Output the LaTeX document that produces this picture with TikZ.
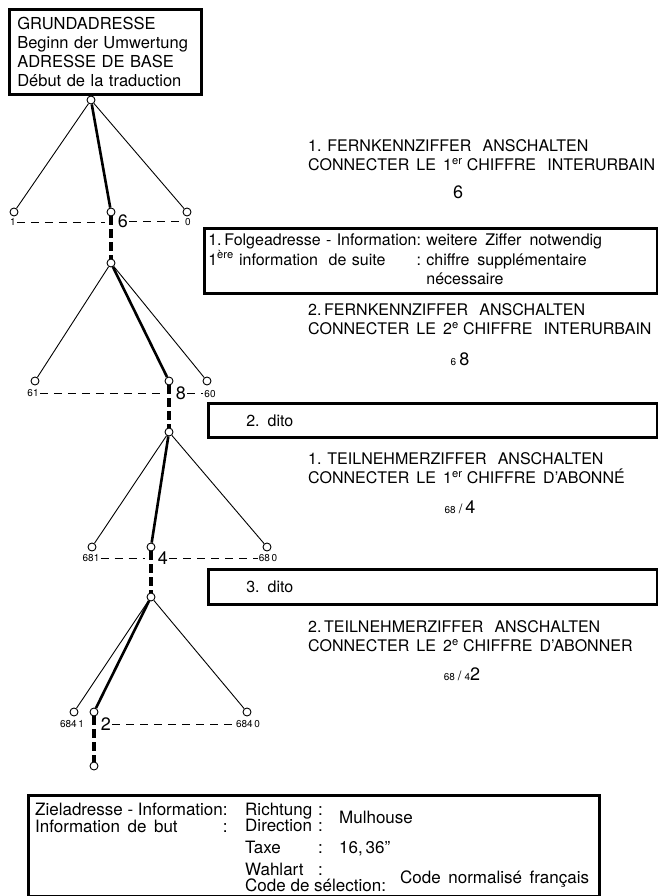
\documentclass[tikz,border=0pt]{standalone}
\usepackage{fontspec}
\setmainfont{TeX Gyre Heros}
\tikzset{%
knot/.style={circle,draw,line width=0.9pt,fill=white,minimum size=8pt,inner sep=0pt},
branch/.style={line width=0.9pt},
route/.style={line width=2.6pt},
trunk/.style={line width=3.2pt,dash pattern=on 9pt off 4pt},
level/.style={line width=0.9pt,dash pattern=on 8pt off 6pt},
infobox/.style={draw,line width=2.6pt,inner sep=0pt,anchor=north west,align=left},
stage/.style={anchor=west,align=left,inner sep=0pt},
sub/.style={font=\fontsize{10}{12}\selectfont,inner sep=1pt},
digit/.style={font=\fontsize{18}{20}\selectfont,inner sep=1pt},
cell/.style={anchor=base west,inner sep=0pt,font=\fontsize{17}{14}\selectfont}
}
\newcommand{\sm}[1]{{\fontsize{10}{12}\selectfont #1}}
\newcommand{\wide}{\hspace{0.7em}}
\newcommand{\lbl}[1]{\makebox[73pt][l]{#1}}

\begin{document}
\begin{tikzpicture}[x=1pt,y=-1pt,
                    every node/.append style={font=\fontsize{16}{19}\selectfont}]
\useasboundingbox (0,0) rectangle (657,896);
%% base address
\node[infobox,minimum width=192pt,minimum height=85pt,text width=176pt,inner xsep=8pt,
      font=\fontsize{16.5}{19}\selectfont] (grund) at (8,8)
     {GRUNDADRESSE\\Beginn der Umwertung\\ADRESSE DE BASE\\Début de la traduction};
%%
\node[knot] (r0) at (91,100)  {};
\node[knot] (a1) at (14,212)  {};
\node[knot] (n1) at (111,212) {};
\node[knot] (b1) at (187,212) {};
\node[knot] (m1) at (111,263) {};
%
\node[knot] (a2) at (35,381)  {};
\node[knot] (n2) at (169,381) {};
\node[knot] (b2) at (207,381) {};
\node[knot] (m2) at (169,432) {};
%
\node[knot] (a3) at (92,547)  {};
\node[knot] (n3) at (151,547) {};
\node[knot] (b3) at (267,547) {};
\node[knot] (m3) at (151,597) {};
%
\node[knot] (a4) at (74,712)  {};
\node[knot] (n4) at (94,712)  {};
\node[knot] (b4) at (247,712) {};
\node[knot] (e4) at (94,766)  {};
%% digit labels
\node[sub]   (l1) at (13,222)  {1};
\node[digit] (d1) at (123,221) {6};
\node[sub]   (o1) at (188,222) {0};
\node[sub]   (l2) at (33,393)  {61};
\node[digit] (d2) at (181,393) {8};
\node[sub]   (o2) at (210,394) {60};
\node[sub]   (l3) at (91,558)  {681};
\node[digit] (d3) at (163,558) {4};
\node[sub]   (o3) at (268,558) {68\,0};
\node[sub]   (l4) at (72,724)  {684\,1};
\node[digit] (d4) at (106,724) {2};
\node[sub]   (o4) at (248,724) {684\,0};
%%%%%%%%%%%%%%
\foreach \up/\lft/\mid/\rgt/\low in {r0/a1/n1/b1/m1,m1/a2/n2/b2/m2,m2/a3/n3/b3/m3,m3/a4/n4/b4/e4}
  {
  \draw[branch] (\up) -- (\lft);
  \draw[route]  (\up) -- (\mid);
  \draw[branch] (\up) -- (\rgt);
  \draw[trunk]  (\mid) -- (\low);
  }
%%
\draw[level,shorten >=6pt] (l1) -- (l1 -| n1);
\draw[level,shorten >=6pt] (l2) -- (l2 -| n2);
\draw[level,shorten >=6pt] (l3) -- (l3 -| n3);
\foreach \i in {1,2,3,4}
  \draw[level] (d\i.east) -- (d\i.east -| o\i.west);
%%%%%%%%%%%%%%
%% steps on the right
\node[stage] (fern1) at (308,155.5)
     {1. FERNKENNZIFFER\wide ANSCHALTEN\\CONNECTER\, LE\, 1\textsuperscript{er} CHIFFRE\wide INTERURBAIN};
\node[digit] (s1) at (458,192) {6};
\node[infobox,minimum height=65pt,text width=445pt,inner xsep=4pt] (folge1) at (203,227)
     {\begin{tabular}{@{}l@{}l@{\ }l@{}}
      1.\,Folgeadresse - Information & : & weitere\, Ziffer\, notwendig\\
      1\textsuperscript{ère} information\ \ de\ suite & : & chiffre\, supplémentaire\\
       & & nécessaire
      \end{tabular}};
%
\node[stage] (fern2) at (308,319.5)
     {2.\,FERNKENNZIFFER\wide ANSCHALTEN\\CONNECTER\, LE\, 2\textsuperscript{e} CHIFFRE\wide INTERURBAIN};
\node[digit] (s2) at (460,359) {\sm{6}\,8};
\node[infobox,minimum height=34pt,text width=373pt,inner xsep=38pt] (dito2) at (207,402) {2. dito};
%
\node[stage] (teil1) at (308,468)
     {1. TEILNEHMERZIFFER\wide ANSCHALTEN\\CONNECTER\, LE\, 1\textsuperscript{er} CHIFFRE\, D'ABONNÉ};
\node[digit] (s3) at (460,507) {\sm{68}\,{\fontsize{13}{14}\selectfont/}\,4};
\node[infobox,minimum height=35pt,text width=373pt,inner xsep=38pt] (dito3) at (207,568) {3. dito};
%
\node[stage] (teil2) at (308,636)
     {2.\,TEILNEHMERZIFFER\wide ANSCHALTEN\\CONNECTER\, LE\, 2\textsuperscript{e} CHIFFRE\, D'ABONNER};
\node[digit] (s4) at (462,674) {\sm{68}\,{\fontsize{13}{14}\selectfont/}\,\sm{4}2};
%%%%%%%%%%%%%%
%% target address
\node[infobox,minimum width=571pt,minimum height=101pt] (ziel) at (27,794) {};
\node[cell,font=\fontsize{17}{17}\selectfont] (zielinfo) at (35,815)
     {\begin{tabular}[t]{@{}l@{}l@{}}
      Zieladresse - Information & :\\
      Information\, de\, but & :
      \end{tabular}};
\node[cell] (richt) at (245,815)
     {\begin{tabular}[t]{@{}l@{}l@{}}\lbl{Richtung} & :\\ \lbl{Direction} & :\end{tabular}};
\node[cell] (taxe)  at (245,853) {\lbl{Taxe}:};
\node[cell] (wahl)  at (245,875)
     {\begin{tabular}[t]{@{}l@{}l@{}}\lbl{Wahlart} & :\\ \multicolumn{2}{@{}l@{}}{Code de sélection:}\end{tabular}};
\node[cell] (mulh)    at (339,823) {Mulhouse};
\node[cell] (taxval)  at (339,853) {16,\,36''};
\node[cell] (codenf)  at (400,883) {Code\, normalisé\, français};
\end{tikzpicture}
\end{document}
